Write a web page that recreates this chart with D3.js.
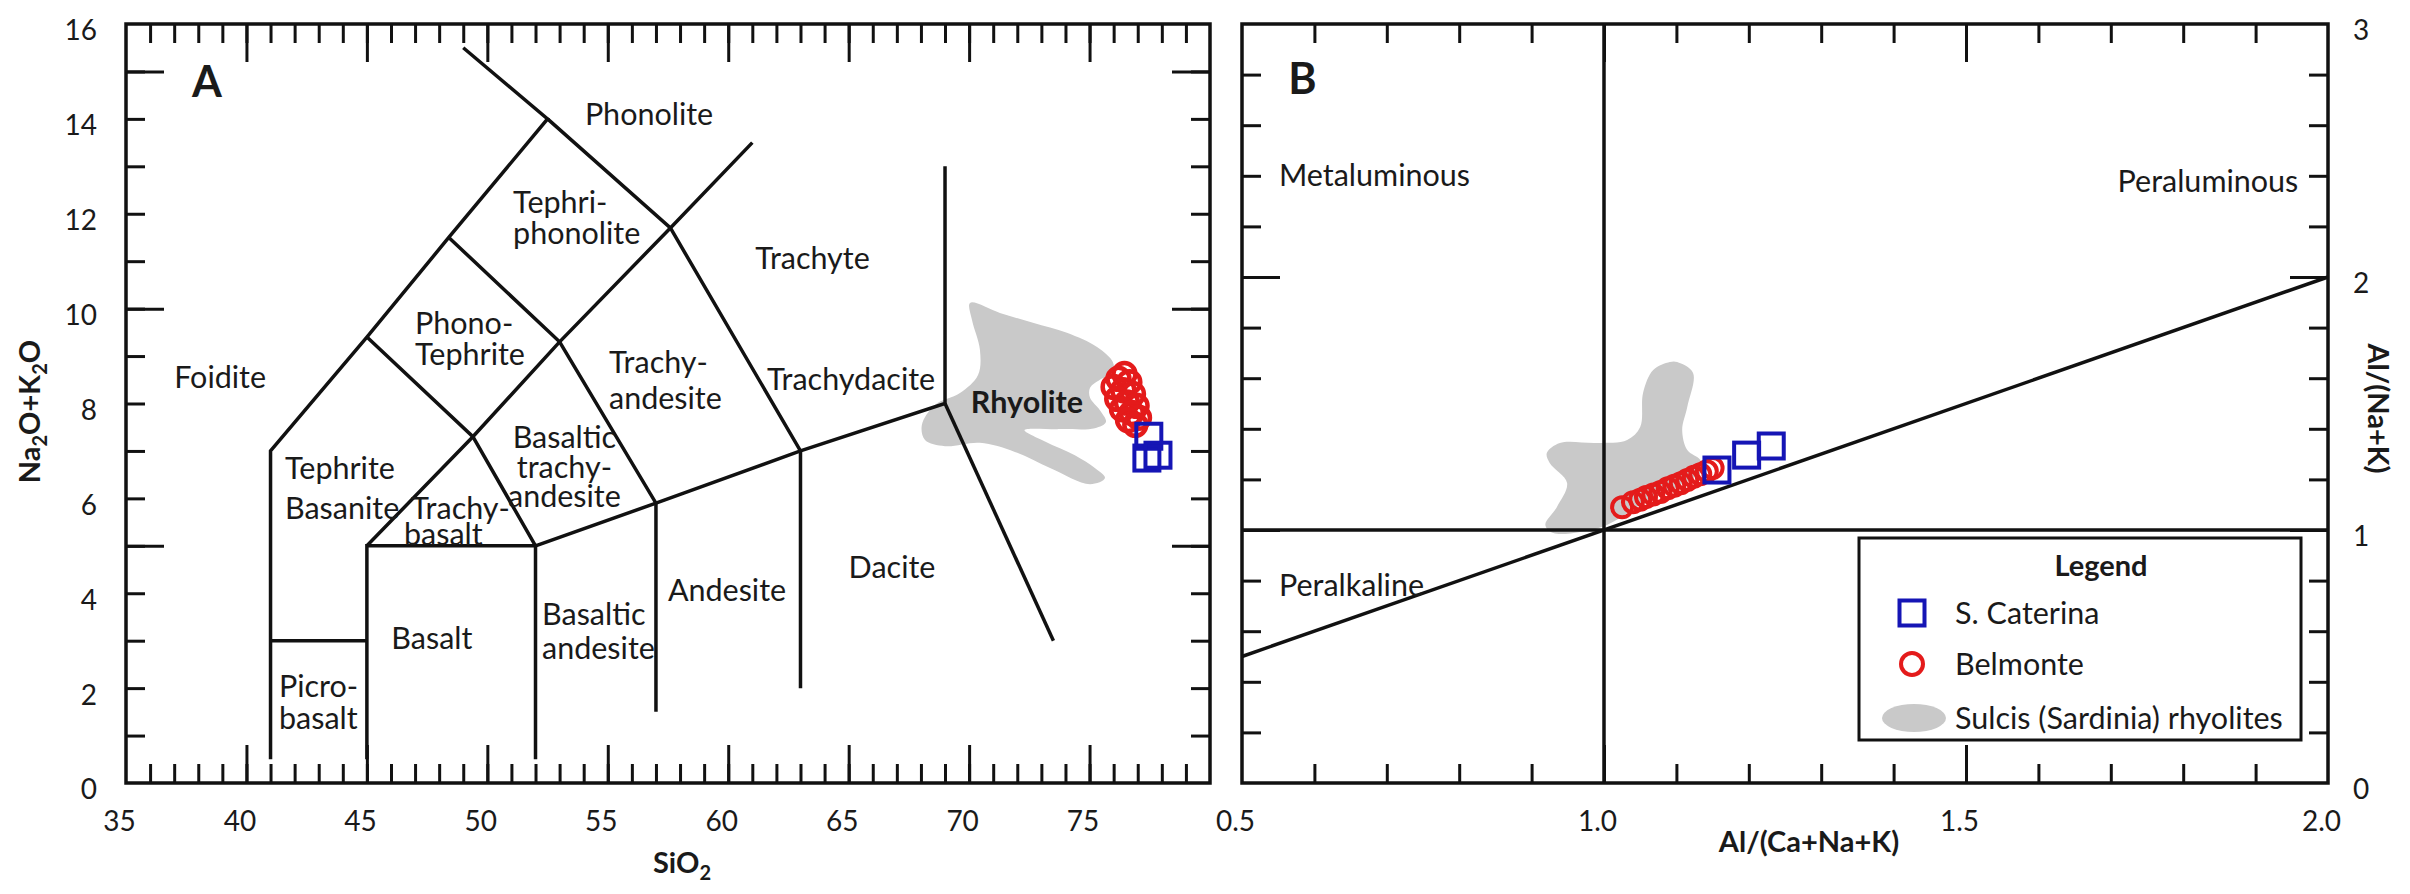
<!DOCTYPE html>
<html>
<head>
<meta charset="utf-8">
<script src="https://cdn.jsdelivr.net/npm/d3@7"></script>
<style>
  body { margin: 0; background: #fff; }
  text { font-family: Lato, "Open Sans", sans-serif; fill: #1a1a1a; }
</style>
</head>
<body>
<script>
// ---- panel A: TAS diagram ----
const tasLines = [
  [[41, 0.5], [41, 7], [45, 9.4], [48.4, 11.5], [52.5, 14], [49, 15.5]],
  [[52.5, 14], [57.6, 11.7], [63, 7], [63, 2]],
  [[41, 3], [45, 3]],
  [[45, 0.5], [45, 5], [52, 5], [52, 0.5]],
  [[45, 5], [49.4, 7.3], [53, 9.3], [57.6, 11.7], [61, 13.5]],
  [[45, 9.4], [49.4, 7.3], [52, 5], [57, 5.9], [63, 7], [69, 8], [69, 13]],
  [[48.4, 11.5], [53, 9.3], [57, 5.9], [57, 1.5]],
  [[69, 8], [73.5, 3]]
];

// label text, SiO2, alkali, anchor
const tasLabels = [
  ["Foidite", 37.0, 8.56, "start"],
  ["Phonolite", 54.05, 14.1, "start"],
  ["Tephri-", 51.07, 12.24, "start"],
  ["phonolite", 51.07, 11.58, "start"],
  ["Phono-", 47.0, 9.68, "start"],
  ["Tephrite", 47.0, 9.04, "start"],
  ["Trachy-", 55.05, 8.87, "start"],
  ["andesite", 55.05, 8.1, "start"],
  ["Basaltic", 53.2, 7.29, "middle"],
  ["trachy-", 53.2, 6.66, "middle"],
  ["andesite", 53.2, 6.05, "middle"],
  ["Tephrite", 41.6, 6.64, "start"],
  ["Basanite", 41.6, 5.8, "start"],
  ["Trachy-", 46.83, 5.8, "start"],
  ["basalt", 46.54, 5.25, "start"],
  ["Basalt", 47.7, 3.06, "middle"],
  ["Picro-", 41.35, 2.04, "start"],
  ["basalt", 41.35, 1.37, "start"],
  ["Basaltic", 52.27, 3.56, "start"],
  ["andesite", 52.27, 2.84, "start"],
  ["Andesite", 59.95, 4.07, "middle"],
  ["Dacite", 66.8, 4.55, "middle"],
  ["Trachyte", 63.5, 11.06, "middle"],
  ["Trachydacite", 65.1, 8.5, "middle"]
];

// Sulcis (Sardinia) rhyolite field, SiO2 vs Na2O+K2O
const sulcisTAS = [
  [70.04, 10.12], [71.28, 9.91], [72.65, 9.70], [74.06, 9.49], [75.31, 9.19],
  [75.97, 8.87], [75.97, 8.66], [75.43, 8.50], [75.02, 8.33], [75.02, 8.12],
  [75.43, 7.86], [75.68, 7.61], [75.22, 7.48], [73.77, 7.46], [72.3, 7.44],
  [73.15, 7.20], [74.39, 6.91], [75.22, 6.64], [75.64, 6.43], [75.02, 6.30],
  [73.36, 6.64], [71.90, 6.98], [70.45, 7.17], [69.0, 7.10], [68.17, 7.23],
  [68.04, 7.55], [68.58, 7.97], [69.62, 8.22], [70.37, 8.60], [70.45, 9.13],
  [70.12, 9.76]
];

const belmonteSiO2 = [76.45, 76.20, 76.65, 76.00, 76.40, 76.80, 76.15, 76.55, 76.95, 76.35, 76.75, 77.05, 76.60, 76.90];
const belmonteAlk  = [8.62, 8.52, 8.45, 8.35, 8.28, 8.20, 8.10, 8.02, 7.95, 7.88, 7.80, 7.70, 7.65, 7.55];
const caterinaSiO2 = [77.46, 77.38, 77.84];
const caterinaAlk  = [7.31, 6.85, 6.91];

const xTicksA = [35, 40, 45, 50, 55, 60, 65, 70, 75];
const yTicksA = [0, 2, 4, 6, 8, 10, 12, 14, 16];

// ---- panel B: Shand index ----
const shandLines = [
  [[1, 0], [1, 3]],
  [[0.5, 1], [2, 1]],
  [[0.5, 0.5], [2, 2]]
];
const shandLabels = [
  ["Metaluminous", 0.551, 2.40, "start"],
  ["Peraluminous", 1.959, 2.38, "end"],
  ["Peralkaline", 0.551, 0.78, "start"]
];
const sulcisShand = [
  [1.101, 1.664], [1.123, 1.621], [1.115, 1.486], [1.108, 1.395], [1.115, 1.316],
  [1.133, 1.277], [1.137, 1.237], [1.105, 1.178], [1.050, 1.099], [1.004, 1.020],
  [0.967, 0.992], [0.930, 0.988], [0.919, 1.020], [0.935, 1.091], [0.949, 1.186],
  [0.925, 1.265], [0.921, 1.304], [0.939, 1.344], [0.990, 1.344], [1.032, 1.356],
  [1.050, 1.407], [1.054, 1.542], [1.068, 1.632], [1.091, 1.664]
];
const belmonteACNK = [1.025, 1.040, 1.050, 1.058, 1.068, 1.078, 1.088, 1.097, 1.106, 1.115, 1.124, 1.133, 1.142, 1.150];
const belmonteANK  = [1.09, 1.11, 1.12, 1.13, 1.14, 1.15, 1.165, 1.175, 1.185, 1.198, 1.21, 1.22, 1.232, 1.245];
const caterinaACNK = [1.156, 1.197, 1.231];
const caterinaANK  = [1.237, 1.296, 1.332];

const xTicksB = [0.5, 1.0, 1.5, 2.0];
const yTicksB = [0, 1, 2, 3];

const legendItems = ["S. Caterina", "Belmonte", "Sulcis (Sardinia) rhyolites"];

// ---- layout ----
const width = 2410, height = 894;
const plotTop = 24, plotBottom = 783;
const red = "#e41b1b", blue = "#1515b5", grey = "#c9c9c9";
const labelSize = "30.5px";

const svg = d3.select("body").append("svg")
  .attr("width", width)
  .attr("height", height);

const xA = d3.scaleLinear().domain([35, 80]).range([126, 1210]);
const yA = d3.scaleLinear().domain([0, 16]).range([plotBottom, plotTop]);
const xB = d3.scaleLinear().domain([0.5, 2]).range([1242, 2328]);
const yB = d3.scaleLinear().domain([0, 3]).range([plotBottom, plotTop]);

function drawTicks(x, y, xMinor, xMajor, yMinor, yMajor) {
  const g = svg.append("g");
  const [x0, x1] = x.range();
  const sets = [
    [d3.axisBottom(x), xMinor, 19, `translate(0,${plotBottom})`],
    [d3.axisBottom(x), xMajor, 38, `translate(0,${plotBottom})`],
    [d3.axisTop(x), xMinor, 19, `translate(0,${plotTop})`],
    [d3.axisTop(x), xMajor, 38, `translate(0,${plotTop})`],
    [d3.axisLeft(y), yMinor, 19, `translate(${x0},0)`],
    [d3.axisLeft(y), yMajor, 38, `translate(${x0},0)`],
    [d3.axisRight(y), yMinor, 19, `translate(${x1},0)`],
    [d3.axisRight(y), yMajor, 38, `translate(${x1},0)`]
  ];
  sets.forEach(([axis, values, len, tr]) => {
    const a = g.append("g").attr("transform", tr)
      .call(axis.tickValues(values).tickSize(-len).tickFormat(""));
    a.select(".domain").remove();
    a.selectAll("line").attr("stroke", "#111").attr("stroke-width", 3);
  });
  g.append("rect")
    .attr("x", x0).attr("y", plotTop)
    .attr("width", x1 - x0).attr("height", plotBottom - plotTop)
    .attr("fill", "none").attr("stroke", "#111").attr("stroke-width", 3.5);
}

function tickLabels(axis, tr, fmt, pad, dx, dy) {
  const a = svg.append("g").attr("transform", tr)
    .call(axis.tickSize(0).tickPadding(pad).tickFormat(fmt));
  a.select(".domain").remove();
  a.attr("font-family", null).attr("font-size", null);
  a.selectAll("text")
    .style("font-size", "28px")
    .attr("fill", "#1a1a1a")
    .attr("dx", dx)
    .attr("y", function() { return +d3.select(this).attr("y") + dy; });
}

const lineA = d3.line().x(d => xA(d[0])).y(d => yA(d[1]));
const lineB = d3.line().x(d => xB(d[0])).y(d => yB(d[1]));
const blobA = d3.line().x(d => xA(d[0])).y(d => yA(d[1])).curve(d3.curveCatmullRomClosed.alpha(0.5));
const blobB = d3.line().x(d => xB(d[0])).y(d => yB(d[1])).curve(d3.curveCatmullRomClosed.alpha(0.5));

// ===== Panel A =====
svg.append("path").attr("d", blobA(sulcisTAS)).attr("fill", grey);

svg.append("g").selectAll("path")
  .data(tasLines)
  .enter().append("path")
  .attr("d", lineA)
  .attr("fill", "none")
  .attr("stroke", "#111")
  .attr("stroke-width", 3.5)
  .attr("stroke-linejoin", "miter");

drawTicks(xA, yA, d3.range(36, 80), [40, 45, 50, 55, 60, 65, 70, 75], d3.range(1, 16), [5, 10, 15]);

svg.append("g").selectAll("text")
  .data(tasLabels)
  .enter().append("text")
  .attr("x", d => xA(d[1]))
  .attr("y", d => yA(d[2]))
  .attr("dy", "0.35em")
  .attr("text-anchor", d => d[3])
  .style("font-size", labelSize)
  .text(d => d[0]);

svg.append("text")
  .attr("x", xA(72.4)).attr("y", yA(8.03)).attr("dy", "0.35em")
  .attr("text-anchor", "middle")
  .style("font-size", labelSize).style("font-weight", "bold")
  .text("Rhyolite");

svg.append("text")
  .attr("x", xA(37.74)).attr("y", yA(14.78)).attr("dy", "0.36em")
  .style("font-size", "43px").style("font-weight", "bold")
  .text("A");

tickLabels(d3.axisBottom(xA).tickValues(xTicksA), `translate(0,${plotBottom})`, d3.format("d"), 28, -7, 0);
tickLabels(d3.axisLeft(yA).tickValues(yTicksA), `translate(${xA.range()[0]},0)`, d3.format("d"), 29, 0, 7);

// axis titles A
const siO2 = svg.append("text")
  .attr("x", (xA.range()[0] + xA.range()[1]) / 2 + 14)
  .attr("y", 863).attr("dy", "0.35em")
  .attr("text-anchor", "middle")
  .style("font-size", "29px").style("font-weight", "bold");
siO2.append("tspan").text("SiO");
siO2.append("tspan").attr("dy", 7).style("font-size", "20px").text("2");

const alk = svg.append("text")
  .attr("transform", `translate(30,${(plotTop + plotBottom) / 2 + 8}) rotate(-90)`)
  .attr("dy", "0.35em")
  .attr("text-anchor", "middle")
  .style("font-size", "29px").style("font-weight", "bold");
alk.append("tspan").text("Na");
alk.append("tspan").attr("dy", 7).style("font-size", "20px").text("2");
alk.append("tspan").attr("dy", -7).text("O+K");
alk.append("tspan").attr("dy", 7).style("font-size", "20px").text("2");
alk.append("tspan").attr("dy", -7).text("O");

// Belmonte and S. Caterina in A
svg.append("g").selectAll("circle")
  .data(d3.range(belmonteSiO2.length))
  .enter().append("circle")
  .attr("cx", i => xA(belmonteSiO2[i]))
  .attr("cy", i => yA(belmonteAlk[i]))
  .attr("r", 11)
  .attr("fill", "none").attr("stroke", red).attr("stroke-width", 4.5);

svg.append("g").selectAll("rect")
  .data(d3.range(caterinaSiO2.length))
  .enter().append("rect")
  .attr("x", i => xA(caterinaSiO2[i]) - 12.5)
  .attr("y", i => yA(caterinaAlk[i]) - 12.5)
  .attr("width", 25).attr("height", 25)
  .attr("fill", "none").attr("stroke", blue).attr("stroke-width", 4);

// ===== Panel B =====
svg.append("path").attr("d", blobB(sulcisShand)).attr("fill", grey);

svg.append("g").selectAll("path")
  .data(shandLines)
  .enter().append("path")
  .attr("d", lineB)
  .attr("fill", "none")
  .attr("stroke", "#111")
  .attr("stroke-width", 3.5);

drawTicks(xB, yB, d3.range(6, 20).map(d => d / 10), [1.0, 1.5], d3.range(1, 15).map(d => d / 5), [1, 2]);

svg.append("g").selectAll("text")
  .data(shandLabels)
  .enter().append("text")
  .attr("x", d => xB(d[1]))
  .attr("y", d => yB(d[2]))
  .attr("dy", "0.35em")
  .attr("text-anchor", d => d[3])
  .style("font-size", labelSize)
  .text(d => d[0]);

svg.append("text")
  .attr("x", xB(0.564)).attr("y", yB(2.783)).attr("dy", "0.36em")
  .style("font-size", "43px").style("font-weight", "bold")
  .text("B");

tickLabels(d3.axisBottom(xB).tickValues(xTicksB), `translate(0,${plotBottom})`, d3.format(".1f"), 28, -7, 0);
tickLabels(d3.axisRight(yB).tickValues(yTicksB), `translate(${xB.range()[1]},0)`, d3.format("d"), 25, 0, 7);

svg.append("text")
  .attr("x", (xB.range()[0] + xB.range()[1]) / 2 + 24)
  .attr("y", 842).attr("dy", "0.35em")
  .attr("text-anchor", "middle")
  .style("font-size", "29px").style("font-weight", "bold")
  .text("Al/(Ca+Na+K)");

svg.append("text")
  .attr("transform", `translate(2378,${(plotTop + plotBottom) / 2 + 5}) rotate(90)`)
  .attr("dy", "0.35em")
  .attr("text-anchor", "middle")
  .style("font-size", "29px").style("font-weight", "bold")
  .text("Al/(Na+K)");

svg.append("g").selectAll("circle")
  .data(d3.range(belmonteACNK.length))
  .enter().append("circle")
  .attr("cx", i => xB(belmonteACNK[i]))
  .attr("cy", i => yB(belmonteANK[i]))
  .attr("r", 10)
  .attr("fill", "none").attr("stroke", red).attr("stroke-width", 4);

svg.append("g").selectAll("rect")
  .data(d3.range(caterinaACNK.length))
  .enter().append("rect")
  .attr("x", i => xB(caterinaACNK[i]) - 12.5)
  .attr("y", i => yB(caterinaANK[i]) - 12.5)
  .attr("width", 25).attr("height", 25)
  .attr("fill", "none").attr("stroke", blue).attr("stroke-width", 4);

// legend
const lgRight = xB.range()[1] - 27, lgBottom = plotBottom - 43;
const lgW = 442, lgH = 202;
const legend = svg.append("g").attr("transform", `translate(${lgRight - lgW},${lgBottom - lgH})`);
legend.append("rect")
  .attr("width", lgW).attr("height", lgH)
  .attr("fill", "#fff").attr("stroke", "#111").attr("stroke-width", 3);
legend.append("text")
  .attr("x", lgW / 2 + 21).attr("y", 28).attr("dy", "0.35em")
  .attr("text-anchor", "middle")
  .style("font-size", "29px").style("font-weight", "bold")
  .text("Legend");
const rowY = [75, 126, 180];
legend.append("rect")
  .attr("x", 53 - 12.5).attr("y", rowY[0] - 12.5)
  .attr("width", 25).attr("height", 25)
  .attr("fill", "none").attr("stroke", blue).attr("stroke-width", 4);
legend.append("circle")
  .attr("cx", 53).attr("cy", rowY[1]).attr("r", 11)
  .attr("fill", "none").attr("stroke", red).attr("stroke-width", 4);
legend.append("ellipse")
  .attr("cx", 55).attr("cy", rowY[2]).attr("rx", 32).attr("ry", 14)
  .attr("fill", grey);
legend.selectAll(".item")
  .data(legendItems)
  .enter().append("text")
  .attr("class", "item")
  .attr("x", 96)
  .attr("y", (d, i) => rowY[i])
  .attr("dy", "0.35em")
  .style("font-size", labelSize)
  .text(d => d);
</script>
</body>
</html>
